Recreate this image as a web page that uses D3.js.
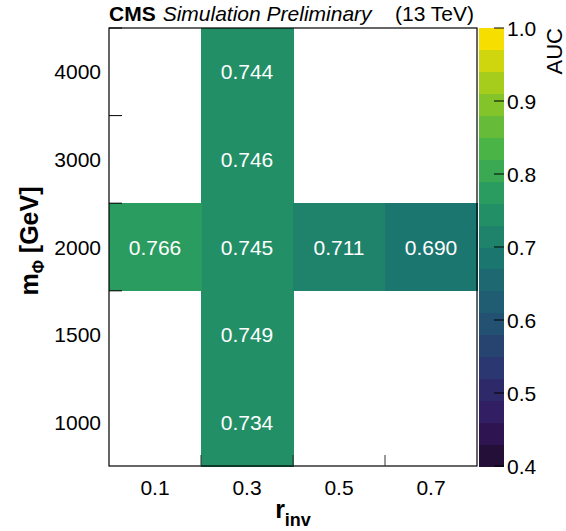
<!DOCTYPE html>
<html lang="en">
<head>
<meta charset="UTF-8">
<title>AUC vs r_inv and m_Phi</title>
<script src="https://d3js.org/d3.v7.min.js"></script>
<style>
  body { margin: 0; background: #fff; }
  text { font-family: "Liberation Sans", Arial, sans-serif; }
</style>
</head>
<body>
<div id="chart"></div>
<script>
// axis categories
const rinvLabels = ["0.1", "0.3", "0.5", "0.7"];
const massLabels = ["1000", "1500", "2000", "3000", "4000"];

// filled cells
const cellRinv = ["0.3", "0.3", "0.3", "0.3", "0.3", "0.1", "0.5", "0.7"];
const cellMass = ["4000", "3000", "2000", "1500", "1000", "2000", "2000", "2000"];
const cellAuc  = [0.744, 0.746, 0.745, 0.749, 0.734, 0.766, 0.711, 0.690];

// colour axis
const zTicks = [0.4, 0.5, 0.6, 0.7, 0.8, 0.9, 1.0];
const zMin = 0.4, zMax = 1.0, nContours = 20;

const W = 566, H = 531;
const plot = { left: 109, right: 477, top: 28, bottom: 466 };
const bar = { left: 479, right: 504 };

const svg = d3.select("#chart").append("svg")
    .attr("width", W).attr("height", H);

const x = d3.scaleBand().domain(rinvLabels).range([plot.left, plot.right]);
const y = d3.scaleBand().domain(massLabels).range([plot.bottom, plot.top]);
const z = d3.scaleLinear().domain([zMin, zMax]).range([plot.bottom, plot.top]);

// viridis-like palette stops (as in ROOT)
const stops = [[26,9,30],[51,24,96],[43,55,112],[33,87,114],[28,118,112],
               [35,150,101],[74,180,72],[144,200,35],[246,222,0]];
const pal = d3.scaleLinear()
    .domain(stops.map((d, i) => i / (stops.length - 1)))
    .range(stops.map(d => d3.rgb(d[0], d[1], d[2]).toString()))
    .interpolate(d3.interpolateRgb);
const binColor = i => pal(Math.floor((i + 0.99) * 255 / nContours) / 254);
const colorOf = v => binColor(Math.min(nContours - 1, Math.floor((v - zMin) / (zMax - zMin) * nContours)));

// cells
const cells = cellAuc.map((v, i) => ({ r: cellRinv[i], m: cellMass[i], v }));
svg.append("g").attr("shape-rendering", "crispEdges")
    .selectAll("rect").data(cells).join("rect")
    .attr("x", d => x(d.r)).attr("y", d => y(d.m))
    .attr("width", x.bandwidth() + 0.5).attr("height", y.bandwidth() + 0.5)
    .attr("fill", d => colorOf(d.v));

svg.append("g").selectAll("text").data(cells).join("text")
    .attr("x", d => x(d.r) + x.bandwidth() / 2)
    .attr("y", d => y(d.m) + y.bandwidth() / 2 + 7.5)
    .attr("text-anchor", "middle").attr("fill", "#fff")
    .attr("font-size", 21).text(d => d.v.toFixed(3));

// frame
svg.append("rect")
    .attr("x", plot.left).attr("y", plot.top)
    .attr("width", plot.right - plot.left).attr("height", plot.bottom - plot.top)
    .attr("fill", "none").attr("stroke", "#000").attr("stroke-width", 1.2);

// ticks at bin edges
const xEdges = rinvLabels.map(d => x(d)).concat([plot.right]);
const yEdges = massLabels.map(d => y(d)).concat([plot.bottom]);
svg.append("g").selectAll("line").data(xEdges.slice(1, -1)).join("line")
    .attr("x1", d => d).attr("x2", d => d)
    .attr("y1", plot.bottom).attr("y2", plot.bottom - 11)
    .attr("stroke", "#333");
svg.append("g").selectAll("line").data(yEdges.slice(1, -1)).join("line")
    .attr("x1", plot.left).attr("x2", plot.left + 13)
    .attr("y1", d => d).attr("y2", d => d)
    .attr("stroke", "#000");

// tick labels
svg.append("g").selectAll("text").data(rinvLabels).join("text")
    .attr("x", d => x(d) + x.bandwidth() / 2).attr("y", plot.bottom + 29)
    .attr("text-anchor", "middle").attr("font-size", 21).text(d => d);
svg.append("g").selectAll("text").data(massLabels).join("text")
    .attr("x", plot.left - 8).attr("y", d => y(d) + y.bandwidth() / 2 + 7.5)
    .attr("text-anchor", "end").attr("font-size", 21).text(d => d);

// axis titles
const xt = svg.append("text")
    .attr("x", (plot.left + plot.right) / 2).attr("y", 518)
    .attr("text-anchor", "middle").attr("font-size", 25).attr("font-weight", "bold");
xt.append("tspan").text("r");
xt.append("tspan").attr("font-size", 18).attr("dy", 8).text("inv");

const yt = svg.append("text")
    .attr("transform", `translate(38,${(plot.top + plot.bottom) / 2 - 6}) rotate(-90)`)
    .attr("text-anchor", "middle").attr("font-size", 25).attr("font-weight", "bold");
yt.append("tspan").text("m");
yt.append("tspan").attr("font-size", 16).attr("dy", 6).text("Φ");
yt.append("tspan").attr("dy", -6).text(" [GeV]");

// colour bar
const bins = d3.range(nContours);
const step = (zMax - zMin) / nContours;
svg.append("g").attr("shape-rendering", "crispEdges")
    .selectAll("rect").data(bins).join("rect")
    .attr("x", bar.left).attr("width", bar.right - bar.left)
    .attr("y", i => z(zMin + (i + 1) * step))
    .attr("height", i => z(zMin + i * step) - z(zMin + (i + 1) * step) + 0.5)
    .attr("fill", i => binColor(i));

svg.append("g").selectAll("line").data(zTicks).join("line")
    .attr("x1", bar.right - 10).attr("x2", bar.right)
    .attr("y1", d => z(d)).attr("y2", d => z(d))
    .attr("stroke", "#000");
svg.append("g").selectAll("text").data(zTicks).join("text")
    .attr("x", bar.right + 3).attr("y", d => z(d) + 7.5)
    .attr("font-size", 21).text(d => d.toFixed(1));

svg.append("text")
    .attr("transform", `translate(562,${plot.top}) rotate(-90)`)
    .attr("text-anchor", "end").attr("font-size", 22).text("AUC");

// header
const hd = svg.append("text").attr("x", plot.left).attr("y", 21).attr("font-size", 21);
hd.append("tspan").attr("font-weight", "bold").text("CMS");
hd.append("tspan").attr("font-style", "italic").attr("dx", 7).text("Simulation Preliminary");
svg.append("text").attr("x", plot.right - 3).attr("y", 21)
    .attr("text-anchor", "end").attr("font-size", 21).text("(13 TeV)");
</script>
</body>
</html>
